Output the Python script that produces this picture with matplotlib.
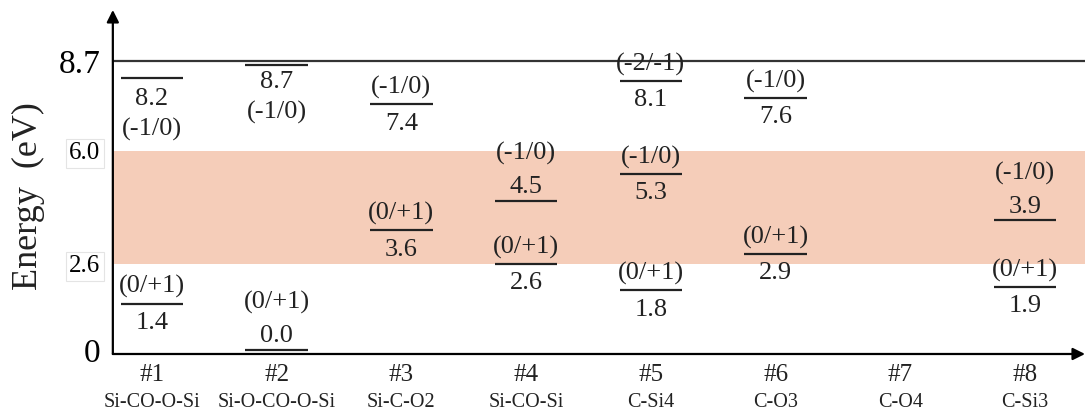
import matplotlib

matplotlib.use("Agg")

import matplotlib.pyplot as plt
from matplotlib.transforms import ScaledTranslation, blended_transform_factory

plt.rcParams["font.family"] = ["Liberation Serif", "DejaVu Serif"]

# ==========================================================
# Data
# ==========================================================

sites = ["#1", "#2", "#3", "#4", "#5", "#6", "#7", "#8"]
structures = ["Si-CO-O-Si", "Si-O-CO-O-Si", "Si-C-O2", "Si-CO-Si",
              "C-Si4", "C-O3", "C-O4", "C-Si3"]

level_site = [1, 1, 2, 2, 3, 3, 4, 4, 5, 5, 5, 6, 6, 8, 8]
level_energy = [8.2, 1.4, 8.7, 0.0, 7.4, 3.6, 4.5, 2.6, 8.1, 5.3, 1.8,
                7.6, 2.9, 3.9, 1.9]
level_charge = ["(-1/0)", "(0/+1)", "(-1/0)", "(0/+1)", "(-1/0)", "(0/+1)",
                "(-1/0)", "(0/+1)", "(-2/-1)", "(-1/0)", "(0/+1)",
                "(-1/0)", "(0/+1)", "(-1/0)", "(0/+1)"]
# where the labels go: "split" = charge above / value below,
# "below" = both under the line, "above" = both over the line
level_layout = ["below", "split", "below", "above", "split", "split",
                "above", "split", "split", "split", "split",
                "split", "split", "above", "split"]

gap_low = 2.6
gap_high = 6.0
top_level = 8.7
ytick_values = [0, 2.6, 6.0, 8.7]
ytick_labels = ["0", "2.6", "6.0", "8.7"]

# ==========================================================
# Figure
# ==========================================================

fig = plt.figure(figsize=(10.85, 4.15), dpi=100)
ax = fig.add_axes([0.104, 0.147, 0.896, 0.829])

ax.set_xlim(0.687, 8.48)
ax.set_ylim(-0.12, 10.24)

ax.axhspan(gap_low, gap_high, color="#f5cdb9", lw=0, zorder=0)
ax.axhline(top_level, color="#333333", lw=1.6, zorder=1)

for spine in ax.spines.values():
    spine.set_visible(False)

# axes with arrow heads
arrow_kw = dict(arrowstyle="-|>", color="black", lw=1.6,
                mutation_scale=18, shrinkA=0, shrinkB=0)
ax.annotate("", xy=(0, 1), xytext=(0, 0), xycoords="axes fraction",
            textcoords="axes fraction", arrowprops=arrow_kw)
ax.annotate("", xy=(1, 0), xytext=(0, 0), xycoords="axes fraction",
            textcoords="axes fraction", arrowprops=arrow_kw)

# ==========================================================
# Defect levels
# ==========================================================

half_width = 0.25
near = 11
far = 34

# a level sitting on the top line is nudged just under it
nudge = ax.transData + ScaledTranslation(0, -2.5 / 72, fig.dpi_scale_trans)

for x, e, charge, layout in zip(level_site, level_energy,
                                level_charge, level_layout):
    ax.hlines(e, x - half_width, x + half_width, color="#222222",
              lw=1.6, zorder=3,
              transform=nudge if e == top_level else ax.transData)
    value = f"{e:.1f}"
    if layout == "split":
        placed = [(charge, near + 1), (value, -near - 3)]
    elif layout == "below":
        placed = [(value, -near - 4), (charge, -far - 3)]
    else:
        placed = [(value, near - 1), (charge, far)]
    for text, dy in placed:
        ax.annotate(text, xy=(x, e), xytext=(0, dy),
                    textcoords="offset points", ha="center", va="center",
                    fontsize=19, color="#222222", zorder=4)

# ==========================================================
# Axis labels
# ==========================================================

ax.set_xticks([])
ax.set_yticks(ytick_values)
ax.set_yticklabels(ytick_labels)
ax.tick_params(axis="y", length=0, pad=9)

for value, label in zip(ytick_values, ax.get_yticklabels()):
    if value in (gap_low, gap_high):
        label.set_fontsize(18)
        label.set_bbox(dict(facecolor="white", edgecolor="#e4e4e4",
                            lw=0.8, pad=2.5))
    else:
        label.set_fontsize(24)

xtrans = blended_transform_factory(ax.transData, ax.transAxes)
for i, (site, name) in enumerate(zip(sites, structures), start=1):
    ax.annotate(site, xy=(i, 0), xycoords=xtrans, xytext=(0, -15),
                textcoords="offset points", ha="center", va="center",
                fontsize=18, color="#222222")
    ax.annotate(name, xy=(i, 0), xycoords=xtrans, xytext=(0, -35),
                textcoords="offset points", ha="center", va="center",
                fontsize=14.5, color="#222222")

fig.text(28 / 1085, 1 - 196 / 415, "Energy  (eV)", rotation=90,
         ha="center", va="center", fontsize=26, color="#222222")

fig.savefig("out.png", dpi=100)
plt.close(fig)
